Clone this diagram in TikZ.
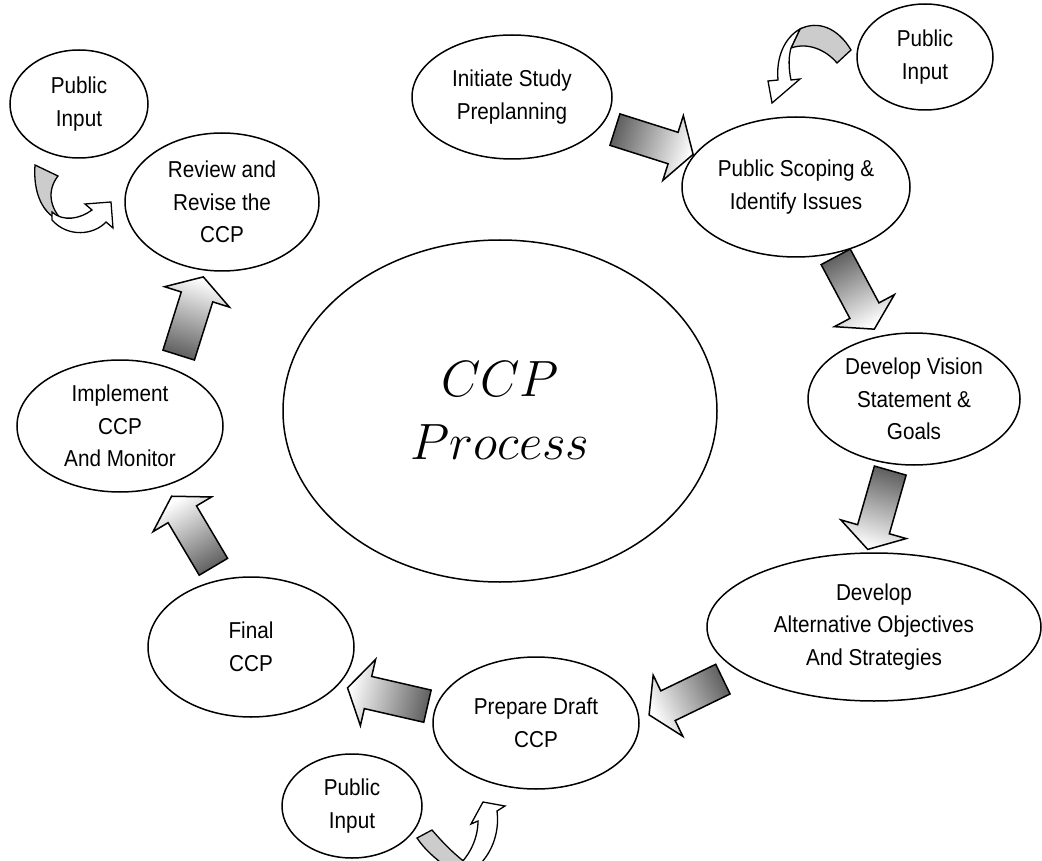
\RequirePackage{fix-cm}
\documentclass[tikz,border=0pt]{standalone}
\usepackage{fontspec}
\setmainfont[FakeStretch=0.9]{Liberation Sans}
\usetikzlibrary{shapes.geometric,calc}

\tikzset{
  stage/.style={ellipse, draw, line width=1.5pt, inner sep=0pt, align=center,
    font=\fontsize{23}{32.5}\selectfont},
  blockarr/.style={draw, line width=1.5pt, top color=black!62, bottom color=white},
  backface/.style={draw, line width=1.3pt, fill=black!20},
  frontface/.style={draw, line width=1.3pt, fill=white},
}

% shaded block arrow half way between two stages: from, to, shift, extra turn
\newcommand{\blockarrow}[4]{%
  \pgfmathanglebetweenpoints{\pgfpointanchor{#1}{center}}{\pgfpointanchor{#2}{center}}%
  \pgfmathsetmacro{\arrang}{\pgfmathresult+#4}%
  \pgfmathsetmacro{\shadeang}{\arrang+90}%
  \shade[blockarr, shading angle=\shadeang, shift={($(#1)!0.5!(#2)+(#3)$)}, rotate=\arrang]
    (-41,-16.5) -- (20,-16.5) -- (20,-34) -- (41,0) -- (20,34) -- (20,16.5) -- (-41,16.5) -- cycle;}

\begin{document}
\begin{tikzpicture}[x=1pt, y=-1pt]
  \useasboundingbox (0,0) rectangle (1042,861);
  \clip (0,0) rectangle (1042,861);

  % the stages
  \node[stage, minimum width=434, minimum height=342, font=\fontsize{51}{63}\selectfont]
    (ccp) at (500,411) {$CCP$\\$Process$};
  \node[stage, minimum width=200, minimum height=124] (initiate) at (512,97) {Initiate Study\\Preplanning};
  \node[stage, minimum width=228, minimum height=140] (scoping) at (796,187) {Public Scoping \&\\Identify Issues};
  \node[stage, minimum width=212, minimum height=132] (vision) at (914,399) {Develop Vision\\Statement \&\\Goals};
  \node[stage, minimum width=334, minimum height=148] (altern) at (874,627) {Develop\\Alternative Objectives\\And Strategies};
  \node[stage, minimum width=206, minimum height=132] (draft) at (536,723) {Prepare Draft\\CCP};
  \node[stage, minimum width=206, minimum height=140] (final) at (251,647) {Final\\CCP};
  \node[stage, minimum width=206, minimum height=132] (implement) at (120,426) {Implement\\CCP\\And Monitor};
  \node[stage, minimum width=194, minimum height=138] (review) at (222,202) {Review and\\Revise the\\CCP};

  % public input
  \node[stage, minimum width=138, minimum height=108] (inputtl) at (79,104) {Public\\Input};
  \node[stage, minimum width=136, minimum height=106] (inputtr) at (925,57) {Public\\Input};
  \node[stage, minimum width=140, minimum height=104] (inputb) at (352,806) {Public\\Input};

  % block arrows round the cycle
  \blockarrow{initiate}{scoping}{0,0}{0}
  \blockarrow{scoping}{vision}{0,0}{-1}
  \blockarrow{vision}{altern}{-15,-3}{-6}
  \blockarrow{altern}{draft}{-19,22}{10}
  \blockarrow{draft}{final}{-6,12}{2}
  \blockarrow{final}{implement}{7,-5}{0}
  \blockarrow{implement}{review}{20,2}{7}

  % curved arrows from the public input
  \filldraw[backface] (35,165) -- (58,176) .. controls (47,190) and (49,208) .. (64,222)
    .. controls (42,216) and (33,192) .. cycle;
  \filldraw[frontface] (52,212) .. controls (63,222) and (80,219) .. (92,210) -- (85,204)
    -- (111,202) -- (113,228) -- (106,222) .. controls (94,235) and (68,238) .. (52,220) -- cycle;

  \filldraw[backface] (851,50) .. controls (838,28) and (818,20) .. (800,29) -- (791,48)
    .. controls (808,42) and (826,50) .. (837,63) -- cycle;
  \filldraw[frontface] (800,29) .. controls (784,38) and (776,58) .. (778,80) -- (768,81)
    -- (772,103) -- (800,79) -- (791,80) .. controls (788,66) and (789,55) .. (791,48) -- cycle;

  \filldraw[backface] (417,838) -- (432,830) .. controls (445,845) and (455,855) .. (470,866)
    -- (445,866) .. controls (435,858) and (425,850) .. cycle;
  \filldraw[frontface] (458,866) .. controls (470,855) and (478,838) .. (478,821) -- (471,824)
    -- (483,802) -- (505,806) -- (497,811) .. controls (500,835) and (490,855) .. (478,866) -- cycle;
\end{tikzpicture}
\end{document}
